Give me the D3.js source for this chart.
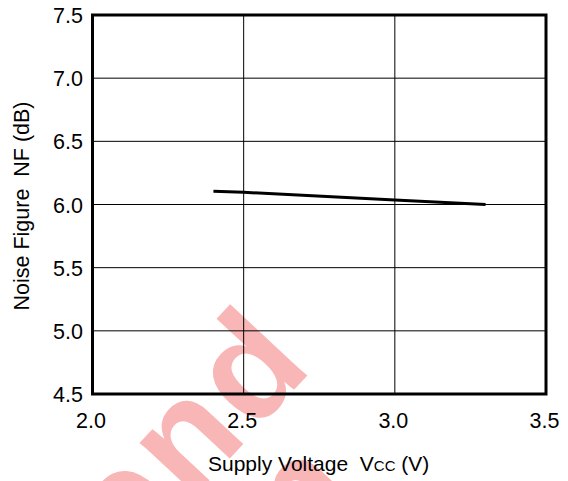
<!DOCTYPE html>
<html><head><meta charset="utf-8">
<script src="https://cdn.jsdelivr.net/npm/d3@7"></script>
<style>body{margin:0;background:#fff}svg{display:block}</style>
</head><body>
<script>
const voltage = [2.4, 2.5, 3.0, 3.3];
const noiseFigure = [6.105, 6.097, 6.035, 6.0];
const xTicks = [2.0, 2.5, 3.0, 3.5];
const yTicks = [4.5, 5.0, 5.5, 6.0, 6.5, 7.0, 7.5];
const watermark = ["Not Recommend", "for New Design"];

const W = 568, H = 481;
const m = {left: 92.5, right: 546, top: 15, bottom: 394};
const font = "'Liberation Sans', Arial, Helvetica, sans-serif";

const svg = d3.select("body").append("svg").attr("width", W).attr("height", H);
const x = d3.scaleLinear().domain([2.0, 3.5]).range([m.left, m.right]);
const y = d3.scaleLinear().domain([4.5, 7.5]).range([m.bottom, m.top]);

// watermark
const wm = svg.append("g").attr("fill", "#f9b6b6").attr("font-family", font)
  .attr("font-weight", "bold").attr("font-size", 145).attr("letter-spacing", 6);
wm.append("text").attr("text-anchor", "end")
  .attr("transform", "translate(318,364) rotate(-47)").text(watermark[0]);
wm.append("text").attr("text-anchor", "end")
  .attr("transform", "translate(366,492) rotate(-47)").text(watermark[1]);

// grid
const g = svg.append("g");
g.append("g").selectAll("line").data(xTicks.slice(1, -1)).join("line")
  .attr("x1", d => x(d)).attr("x2", d => x(d)).attr("y1", m.top).attr("y2", m.bottom)
  .attr("stroke", "#000").attr("stroke-width", 1);
g.append("g").selectAll("line").data(yTicks.slice(1, -1)).join("line")
  .attr("y1", d => y(d)).attr("y2", d => y(d)).attr("x1", m.left).attr("x2", m.right)
  .attr("stroke", "#000").attr("stroke-width", 1);

// border
svg.append("rect").attr("x", m.left).attr("y", m.top)
  .attr("width", m.right - m.left).attr("height", m.bottom - m.top)
  .attr("fill", "none").attr("stroke", "#000").attr("stroke-width", 3);

// data line
const pts = voltage.map((v, i) => [v, noiseFigure[i]]);
svg.append("path").datum(pts)
  .attr("d", d3.line().x(d => x(d[0])).y(d => y(d[1])))
  .attr("fill", "none").attr("stroke", "#000").attr("stroke-width", 3);

// tick labels
svg.append("g").selectAll("text").data(yTicks).join("text")
  .attr("x", 83).attr("y", d => y(d) + 8).attr("text-anchor", "end")
  .attr("font-family", font).attr("font-size", 21.5).text(d => d.toFixed(1));
svg.append("g").selectAll("text").data(xTicks).join("text")
  .attr("x", d => x(d) - 1.5).attr("y", 428).attr("text-anchor", "middle")
  .attr("font-family", font).attr("font-size", 21.5).text(d => d.toFixed(1));

// axis titles
const xt = svg.append("text").attr("x", 208).attr("y", 471).attr("text-anchor", "start")
  .attr("font-family", font).attr("font-size", 21).attr("xml:space", "preserve");
xt.append("tspan").text("Supply Voltage  V");
xt.append("tspan").attr("font-size", 15).text("CC");
xt.append("tspan").text(" (V)");

svg.append("text").attr("transform", "translate(29,206) rotate(-90)")
  .attr("text-anchor", "middle").attr("font-family", font).attr("font-size", 21.5)
  .attr("xml:space", "preserve").text("Noise Figure  NF (dB)");
</script>
</body></html>
